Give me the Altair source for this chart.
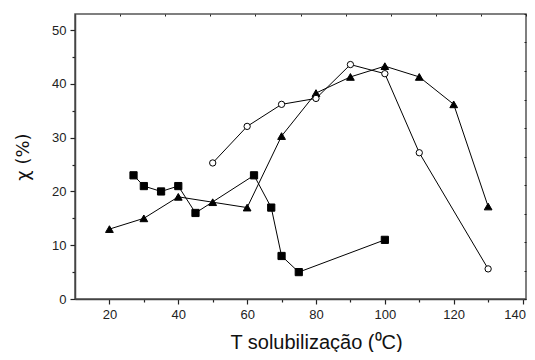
import altair as alt
import pandas as pd

# Series data
sq_x = [27, 30, 35, 40, 45, 62, 67, 70, 75, 100]
sq_y = [23, 21, 20, 21, 16, 23, 17, 8, 5, 11]
tri_x = [20, 30, 40, 50, 60, 70, 80, 90, 100, 110, 120, 130]
tri_y = [13, 15, 19, 18, 17, 30.3, 38.3, 41.3, 43.3, 41.3, 36.2, 17.2]
cir_x = [50, 60, 70, 80, 90, 100, 110, 130]
cir_y = [25.3, 32.1, 36.2, 37.3, 43.6, 41.9, 27.2, 5.6]

x_ticks = [20, 30, 40, 50, 60, 70, 80, 90, 100, 110, 120, 130, 140]
y_ticks = [0, 5, 10, 15, 20, 25, 30, 35, 40, 45, 50]
frame_ticks = [0, 1, 2, 3, 4, 5, 6, 7, 8, 9, 10]

W, H = 451, 285
FONT = "Liberation Sans"

sq = pd.DataFrame({"x": sq_x, "y": sq_y})
tri = pd.DataFrame({"x": tri_x, "y": tri_y})
cir = pd.DataFrame({"x": cir_x, "y": cir_y})

xs = alt.Scale(domain=[10, 141], nice=False, zero=False)
ys = alt.Scale(domain=[0, 53], nice=False, zero=False)

x_axis = alt.Axis(
    values=x_ticks,
    labelExpr="datum.value % 20 == 0 ? datum.label : ''",
    tickSize={"condition": {"test": "datum.value % 20 == 0", "value": 5}, "value": 3},
    labelAlign={"condition": {"test": "datum.value == 140", "value": "right"}, "value": "center"},
    labelOffset={"condition": {"test": "datum.value == 140", "value": 3}, "value": 0},
    title="T solubilização (⁰C)",
    titleFontSize=20, titleFontWeight="normal", titleFont=FONT, titleColor="#111",
    titlePadding=11, titleX=241,
    labelFont=FONT, labelFontSize=13, labelColor="#222", labelPadding=4,
    domainColor="#444", domainWidth=1.5, tickColor="#222", tickWidth=1.2,
    grid=False,
)
y_axis = alt.Axis(
    values=y_ticks,
    labelExpr="datum.value % 10 == 0 ? datum.label : ''",
    tickSize={"condition": {"test": "datum.value % 10 == 0", "value": 5}, "value": 3},
    title="χ (%)",
    titleFontSize=18, titleFontWeight="normal", titleFont="DejaVu Sans", titleColor="#111",
    titlePadding=19,
    labelFont=FONT, labelFontSize=13, labelColor="#222", labelPadding=4,
    domainColor="#444", domainWidth=1.5, tickColor="#222", tickWidth=1.2,
    grid=False,
)


def series(df, shape, fill, size):
    base = alt.Chart(df)
    line = base.mark_line(color="black", strokeWidth=1).encode(
        x=alt.X("x:Q", scale=xs, axis=x_axis),
        y=alt.Y("y:Q", scale=ys, axis=y_axis),
    )
    pts = base.mark_point(
        shape=shape, filled=True, fill=fill, stroke="black", strokeWidth=1,
        size=size, opacity=1,
    ).encode(
        x=alt.X("x:Q", scale=xs, axis=x_axis),
        y=alt.Y("y:Q", scale=ys, axis=y_axis),
    )
    return line + pts


main = alt.layer(
    series(sq, "square", "black", 52),
    series(tri, "triangle-up", "black", 60),
    series(cir, "circle", "white", 40),
)

frame_df = pd.DataFrame({"fx": frame_ticks, "fy": frame_ticks})
frame = alt.Chart(frame_df).mark_point(opacity=0).encode(
    x=alt.X("fx:Q", scale=alt.Scale(domain=[0, 10], nice=False),
            axis=alt.Axis(orient="bottom", offset=-H, values=frame_ticks, labels=False,
                          domain=False, tickSize=2, tickColor="#222", title=None, grid=False)),
    y=alt.Y("fy:Q", scale=alt.Scale(domain=[0, 10], nice=False),
            axis=alt.Axis(orient="left", offset=-W, values=frame_ticks, labels=False,
                          domain=False, tickSize=2, tickColor="#222", title=None, grid=False)),
)

chart = alt.layer(main, frame).resolve_scale(x="independent", y="independent").properties(
    width=W, height=H,
    padding={"left": 67, "top": 6, "right": 1, "bottom": 53},
    autosize=alt.AutoSizeParams(type="none"),
    background="white",
).configure_view(stroke="#555", strokeWidth=1.5)

chart.save("out.html", embed_options={"renderer": "svg", "actions": False})
